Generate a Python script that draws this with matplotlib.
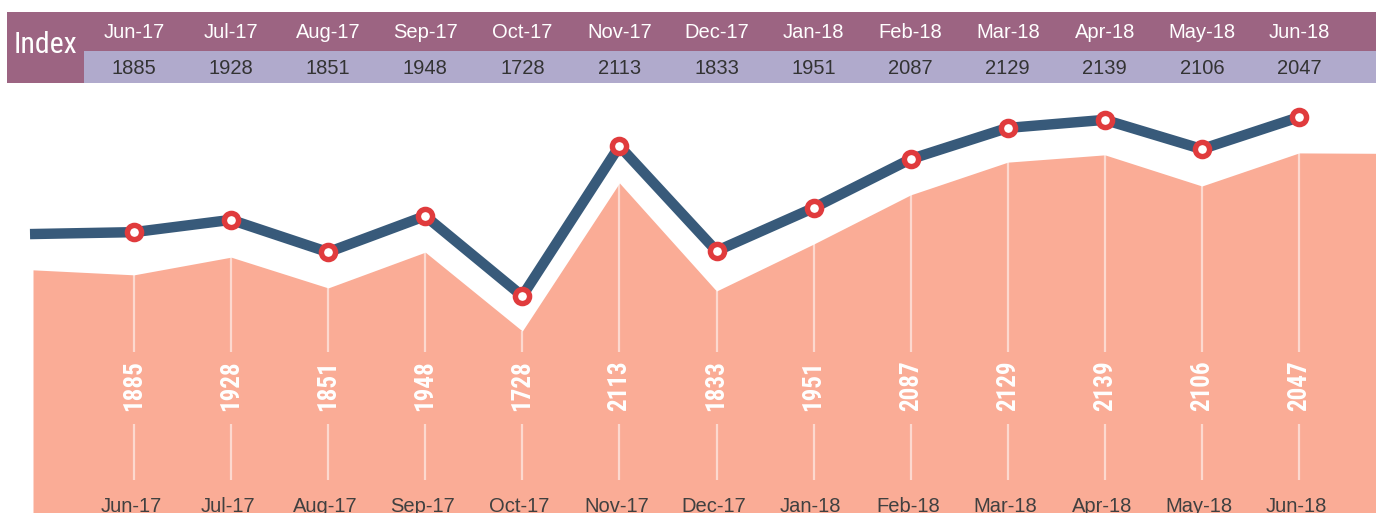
import matplotlib
matplotlib.use("Agg")
import matplotlib.pyplot as plt
from matplotlib.patches import Rectangle
import numpy as np

months = ["Jun-17", "Jul-17", "Aug-17", "Sep-17", "Oct-17", "Nov-17", "Dec-17",
          "Jan-18", "Feb-18", "Mar-18", "Apr-18", "May-18", "Jun-18"]
index_values = [1885, 1928, 1851, 1948, 1728, 2113, 1833, 1951, 2087, 2129, 2139, 2106, 2047]
# shape of the shaded area
area_values = [1874, 1920, 1840, 1933, 1728, 2113, 1832, 1954, 2082, 2167, 2186, 2105, 2191]
area_left, area_right = 1887, 2190
# line series
line_values = [1985, 2017, 1933, 2027, 1819, 2209, 1936, 2048, 2175, 2256, 2277, 2201, 2284]
line_start = 1980

W, H = 1376, 513
fig = plt.figure(figsize=(W / 100, H / 100), dpi=100)
ax = fig.add_axes([0, 0, 1, 1])
ax.axis("off")

step = (1299 - 134) / 12.0
x0 = -134 / step
x1 = (W - 134) / step
ax.set_xlim(x0, x1)
ylo = 1728 + (331 - H) * 2.6
yhi = 1728 + 331 * 2.6
ax.set_ylim(ylo, yhi)

def py(p):
    return ylo + (yhi - ylo) * (1 - p / H)

def px(p):
    return x0 + (x1 - x0) * p / W

narrow = ["Roboto Condensed", "Liberation Sans", "DejaVu Sans"]
regular = ["Liberation Sans", "DejaVu Sans"]

x = np.arange(len(months))

# area
ax_x = np.concatenate([[px(33)], x, [x1]])
ax_y = np.concatenate([[area_left], area_values, [area_right]])
ax.fill_between(ax_x, ax_y, ylo, color="#faac96", lw=0, zorder=1)

# vertical white lines with gaps for labels
ax.vlines(x, py(352), area_values, color="white", alpha=0.55, lw=1.6, zorder=2)
ax.vlines(x, py(480), py(424), color="white", alpha=0.55, lw=1.6, zorder=2)
for xi, v in zip(x, index_values):
    ax.text(xi, py(386), str(v), rotation=90, ha="center", va="center",
            color="white", fontsize=18, fontweight="bold", family=narrow, zorder=3)
for xi, m in zip(x, months):
    ax.text(xi - 0.03, py(497), m, ha="center", va="top", color="#404040",
            fontsize=14.5, family=regular, zorder=3)

# line
lx = np.concatenate([[px(30)], x])
ly = np.concatenate([[line_start], line_values])
ax.plot(lx, ly, color="#385a7a", lw=7.5, solid_capstyle="butt", solid_joinstyle="miter", zorder=4)
ax.plot(x, line_values, ls="none", marker="o", ms=10.2, mfc="white", mec="#e03b3d", mew=3.9, zorder=5)

# header table
header = "#9c6482"
valrow = "#b0aacc"
ax.add_patch(Rectangle((7 / W, 1 - 83 / H), 77 / W, 71 / H, transform=ax.transAxes,
                       color=header, lw=0, zorder=5.5))
ax.add_patch(Rectangle((84 / W, 1 - 51 / H), (W - 84) / W, 39 / H, transform=ax.transAxes,
                       color=header, lw=0, zorder=5.5))
ax.add_patch(Rectangle((84 / W, 1 - 83 / H), (W - 84) / W, 32 / H, transform=ax.transAxes,
                       color=valrow, lw=0, zorder=5.5))
ax.text(45.5 / W, 1 - 45 / H, "Index", ha="center", va="center", color="white",
        fontsize=21.5, family=narrow, transform=ax.transAxes, zorder=6)
for xi, m, v in zip(x, months, index_values):
    ax.text(xi, py(32), m, ha="center", va="center", color="white", fontsize=14.5,
            family=regular, zorder=6)
    ax.text(xi, py(69), str(v), ha="center", va="center", color="#333333", fontsize=14.5,
            family=regular, zorder=6)

fig.savefig("out.png", dpi=100)
